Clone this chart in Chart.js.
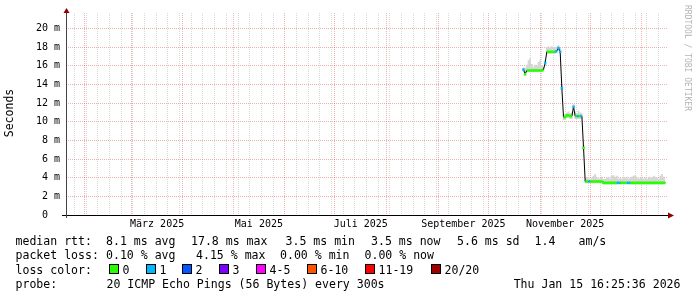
<!DOCTYPE html>
<html>
<head>
<meta charset="utf-8">
<script src="https://cdn.jsdelivr.net/npm/chart.js@4"></script>
<style>
  html, body { margin: 0; padding: 0; background: #fff; }
  canvas { display: block; }
</style>
</head>
<body>
<canvas id="ping" width="697" height="297"></canvas>
<script>
'use strict';

// x values are days counted from 1 Jan 2025 (= day 0); y values in ms
var FIRST_DAY = 294;

var MEDIAN = [
  15.6, 15.1, 15.5, 15.5, 15.5, 15.5, 15.5, 15.5, 15.5, 15.5,
  15.5, 15.5, 15.6, 16.3, 17.5, 17.5, 17.5, 17.5, 17.5, 17.5,
  17.6, 17.9, 17.5, 13.6, 10.5, 10.5, 10.7, 10.7, 10.6, 10.6,
  11.6, 10.6, 10.6, 10.6, 10.6, 10.6, 7.2, 3.6, 3.6, 3.6,
  3.6, 3.6, 3.6, 3.6, 3.6, 3.6, 3.6, 3.6, 3.45, 3.45,
  3.45, 3.45, 3.45, 3.45, 3.45, 3.45, 3.45, 3.45, 3.45, 3.45,
  3.45, 3.45, 3.45, 3.45, 3.45, 3.45, 3.45, 3.45, 3.45, 3.45,
  3.45, 3.45, 3.45, 3.45, 3.45, 3.45, 3.45, 3.45, 3.45, 3.45,
  3.45, 3.45, 3.45, 3.45, 3.45, 3.45
];

// lost pings per day (index into LOSS_COLORS)
var LOSS = [
  1, 0, 0, 0, 0, 0, 0, 0, 0, 0,
  0, 0, 0, 1, 0, 0, 0, 0, 0, 1,
  1, 1, 1, 1, 0, 0, 0, 0, 0, 0,
  1, 0, 1, 0, 1, 0, 0, 0, 0, 1,
  0, 0, 0, 0, 0, 0, 0, 0, 0, 0,
  0, 0, 0, 0, 0, 0, 1, 1, 0, 0,
  0, 0, 1, 1, 0, 0, 0, 0, 0, 0,
  0, 0, 0, 0, 0, 0, 0, 0, 0, 0,
  0, 0, 0, 0, 0, 0
];

var SMOKE_HI = [
  15.9, 15.8, 16.1, 16.6, 16.8, 16.2, 15.9, 16.1, 16.0, 16.4,
  16.6, 16.0, 15.9, 16.6, 18.0, 18.1, 18.0, 18.1, 17.9, 18.0,
  18.1, 18.2, 17.9, 13.9, 10.8, 10.8, 11.0, 11.1, 10.9, 11.0,
  11.9, 11.1, 10.9, 11.2, 11.0, 10.9, 7.5, 3.9, 4.0, 4.1,
  3.9, 4.0, 4.2, 4.4, 4.0, 3.9, 4.0, 4.1, 3.9, 3.9,
  4.0, 4.1, 3.9, 4.2, 4.3, 4.1, 4.2, 3.9, 4.0, 3.9,
  4.1, 4.0, 4.1, 3.9, 4.0, 4.1, 4.2, 4.3, 4.0, 3.9,
  4.0, 4.1, 3.9, 4.0, 3.9, 4.0, 4.1, 4.0, 4.2, 4.1,
  4.0, 3.9, 4.2, 4.4, 4.1, 3.9
];

var SMOKE_LO = [
  15.3, 14.9, 15.3, 15.3, 15.3, 15.3, 15.3, 15.3, 15.3, 15.3,
  15.3, 15.3, 15.4, 16.0, 17.3, 17.3, 17.3, 17.3, 17.3, 17.3,
  17.4, 17.6, 17.3, 13.4, 10.2, 10.2, 10.4, 10.4, 10.3, 10.3,
  11.3, 10.3, 10.3, 10.3, 10.3, 10.3, 7.0, 3.4, 3.4, 3.4,
  3.4, 3.4, 3.4, 3.4, 3.4, 3.4, 3.4, 3.4, 3.3, 3.3,
  3.3, 3.3, 3.3, 3.3, 3.3, 3.3, 3.3, 3.3, 3.3, 3.3,
  3.3, 3.3, 3.3, 3.3, 3.3, 3.3, 3.3, 3.3, 3.3, 3.3,
  3.3, 3.3, 3.3, 3.3, 3.3, 3.3, 3.3, 3.3, 3.3, 3.3,
  3.3, 3.3, 3.3, 3.3, 3.3, 3.3
];

var X_MIN = 19.92, X_MAX = 380;
var Y_MAX = 21.66;
var MONTH_STARTS = [31, 59, 90, 120, 151, 181, 212, 243, 273, 304, 334, 365];
var MONTH_LABEL_DAYS = [74.5, 135.5, 196.5, 258, 319];
var MONTH_LABELS = ['März 2025', 'Mai 2025', 'Juli 2025', 'September 2025', 'November 2025'];
var FIRST_SUNDAY = 25;
var Y_TICKS = [0, 1, 2, 3, 4, 5, 6, 7, 8, 9, 10, 11, 12, 13, 14, 15, 16, 17, 18, 19, 20, 21];

var LOSS_COLORS = ['#26ff00', '#00b8ff', '#0059ff', '#7e00ff', '#ff00ff', '#ff5500', '#ff0000', '#a10000'];
var LOSS_LABELS = ['0', '1', '2', '3', '4-5', '6-10', '11-19', '20/20'];

var RTT_TEXT = ['median rtt:', '8.1 ms avg', '17.8 ms max', '3.5 ms min', '3.5 ms now', '5.6 ms sd', '1.4', 'am/s'];
var PLOSS_TEXT = ['packet loss:', '0.10 % avg', '4.15 % max', '0.00 % min', '0.00 % now'];
var PROBE_TEXT = ['probe:', '20 ICMP Echo Pings (56 Bytes) every 300s'];
var STAMP = 'Thu Jan 15 16:25:36 2026';

var MONO = 'DejaVu Sans Mono';
var RED_GRID = 'rgba(225, 70, 70, 0.42)';
var GRAY_GRID = 'rgba(130, 130, 130, 0.3)';
var NONE = 'rgba(0,0,0,0)';

// weekly minor grid on Sundays
var sundays = [];
for (var d = FIRST_SUNDAY; d < X_MAX; d += 7) sundays.push(d);

var xTicks = [];
sundays.concat(MONTH_STARTS, MONTH_LABEL_DAYS).forEach(function (v) {
  if (xTicks.indexOf(v) < 0) xTicks.push(v);
});
xTicks.sort(function (a, b) { return a - b; });

function pts(arr) {
  return arr.map(function (v, i) { return { x: FIRST_DAY + i, y: v }; });
}

function jump(i, j) {
  if (j < 0 || j >= MEDIAN.length) return true;
  return Math.abs(MEDIAN[i] - MEDIAN[j]) > 0.25;
}

var decorations = {
  id: 'decorations',
  beforeDraw: function (chart) {
    var ctx = chart.ctx;
    ctx.save();
    ctx.fillStyle = '#fff';
    ctx.fillRect(0, 0, chart.width, chart.height);
    ctx.restore();
  },
  afterDraw: function (chart) {
    var ctx = chart.ctx, a = chart.chartArea;
    var y0 = Math.round(chart.scales.y.getPixelForValue(0));
    ctx.save();

    // axes + arrows
    ctx.lineWidth = 1;
    ctx.strokeStyle = '#000';
    ctx.beginPath();
    ctx.moveTo(62, y0 + 0.5);
    ctx.lineTo(669, y0 + 0.5);
    ctx.stroke();
    ctx.strokeStyle = '#444';
    ctx.beginPath();
    ctx.moveTo(a.left + 0.5, y0 + 3);
    ctx.lineTo(a.left + 0.5, 11);
    ctx.stroke();
    ctx.fillStyle = '#900000';
    ctx.beginPath();
    ctx.moveTo(a.left - 2.5, 13);
    ctx.lineTo(a.left + 3.5, 13);
    ctx.lineTo(a.left + 0.5, 8);
    ctx.closePath();
    ctx.fill();
    ctx.beginPath();
    ctx.moveTo(668, y0 - 2.5);
    ctx.lineTo(668, y0 + 3.5);
    ctx.lineTo(674, y0 + 0.5);
    ctx.closePath();
    ctx.fill();

    // y axis title
    ctx.fillStyle = '#000';
    ctx.font = '11.5px "' + MONO + '"';
    ctx.textAlign = 'center';
    ctx.textBaseline = 'middle';
    ctx.save();
    ctx.translate(10.5, 113);
    ctx.rotate(-Math.PI / 2);
    ctx.fillText('Seconds', 0, 0);
    ctx.restore();

    // rrdtool tag
    ctx.save();
    ctx.fillStyle = '#b4b4b4';
    ctx.font = '8px "' + MONO + '"';
    ctx.textAlign = 'left';
    ctx.translate(687.5, 5);
    ctx.rotate(Math.PI / 2);
    ctx.fillText('RRDTOOL / TOBI OETIKER', 0, 0);
    ctx.restore();

    // legend
    ctx.textAlign = 'left';
    ctx.textBaseline = 'alphabetic';
    ctx.font = '11.55px "' + MONO + '"';
    var rttX = [15.5, 106, 191, 285.5, 371, 457, 534.5, 578.5];
    var plossX = [15.5, 106, 196, 280, 364.5];
    var boxX = [109, 146, 182, 219, 256, 307, 365, 431];
    RTT_TEXT.forEach(function (t, i) { ctx.fillText(t, rttX[i], 245); });
    PLOSS_TEXT.forEach(function (t, i) { ctx.fillText(t, plossX[i], 259); });
    ctx.fillText('loss color:', 15.5, 273.5);
    LOSS_LABELS.forEach(function (t, i) {
      ctx.fillStyle = '#000';
      ctx.fillRect(boxX[i], 264, 10, 10);
      ctx.fillStyle = LOSS_COLORS[i];
      ctx.fillRect(boxX[i] + 1, 265, 8, 8);
      ctx.fillStyle = '#000';
      ctx.fillText(t, boxX[i] + 13.5, 273.5);
    });
    ctx.fillText(PROBE_TEXT[0], 15.5, 287.5);
    ctx.fillText(PROBE_TEXT[1], 106.5, 287.5);
    ctx.textAlign = 'right';
    ctx.fillText(STAMP, 680.5, 287.5);
    ctx.restore();
  }
};

new Chart(document.getElementById('ping'), {
  type: 'line',
  data: {
    datasets: [
      {
        // median, coloured by loss; jumps left to the black line below
        data: pts(MEDIAN),
        borderWidth: 2.6,
        borderColor: LOSS_COLORS[0],
        segment: {
          borderColor: function (c) {
            var i = c.p0DataIndex;
            if (jump(i, c.p1DataIndex)) return NONE;
            return LOSS_COLORS[LOSS[i]];
          }
        },
        pointStyle: 'rect',
        pointRadius: function (c) {
          var i = c.dataIndex;
          return (jump(i, i - 1) && jump(i, i + 1)) ? 1.8 : 0;
        },
        pointBackgroundColor: function (c) { return LOSS_COLORS[LOSS[c.dataIndex]]; },
        pointBorderWidth: 0,
        tension: 0,
        fill: false
      },
      {
        data: pts(MEDIAN),
        borderWidth: 1,
        borderColor: '#000',
        pointRadius: 0,
        tension: 0,
        fill: false
      },
      {
        data: pts(SMOKE_HI),
        borderWidth: 0,
        pointRadius: 0,
        stepped: 'middle',
        backgroundColor: '#d6d6d6',
        fill: '+1'
      },
      {
        data: pts(SMOKE_LO),
        borderWidth: 0,
        pointRadius: 0,
        stepped: 'middle',
        fill: false
      }
    ]
  },
  options: {
    responsive: false,
    animation: false,
    devicePixelRatio: 1,
    events: [],
    layout: { padding: { top: 13, right: 30, left: 0, bottom: 0 } },
    plugins: { legend: { display: false }, tooltip: { enabled: false } },
    scales: {
      x: {
        type: 'linear',
        min: X_MIN,
        max: X_MAX,
        afterFit: function (s) { s.height = 82; },
        afterBuildTicks: function (s) {
          s.ticks = xTicks.map(function (v) { return { value: v }; });
        },
        grid: {
          drawTicks: false,
          lineWidth: 1,
          color: function (c) {
            var v = c.tick && c.tick.value;
            if (MONTH_STARTS.indexOf(v) >= 0) return RED_GRID;
            if (sundays.indexOf(v) >= 0) return GRAY_GRID;
            return NONE;
          }
        },
        border: { display: false, dash: [1, 1] },
        ticks: {
          autoSkip: false,
          maxRotation: 0,
          minRotation: 0,
          padding: 3,
          color: '#000',
          font: { family: MONO, size: 10 },
          callback: function (v) {
            var k = MONTH_LABEL_DAYS.indexOf(v);
            return k < 0 ? '' : MONTH_LABELS[k];
          }
        }
      },
      y: {
        min: 0,
        max: Y_MAX,
        afterFit: function (s) { s.width = 66; },
        afterBuildTicks: function (s) {
          s.ticks = Y_TICKS.map(function (v) { return { value: v }; });
        },
        grid: {
          drawTicks: false,
          lineWidth: 1,
          color: function (c) {
            var v = c.tick && c.tick.value;
            return v % 2 === 0 ? RED_GRID : GRAY_GRID;
          }
        },
        border: { display: false, dash: [1, 1] },
        ticks: {
          padding: 6,
          color: '#000',
          font: { family: MONO, size: 10 },
          callback: function (v) {
            if (v === 0) return '0  ';
            return v % 2 === 0 ? v + ' m' : '';
          }
        }
      }
    }
  },
  plugins: [decorations]
});
</script>
</body>
</html>
